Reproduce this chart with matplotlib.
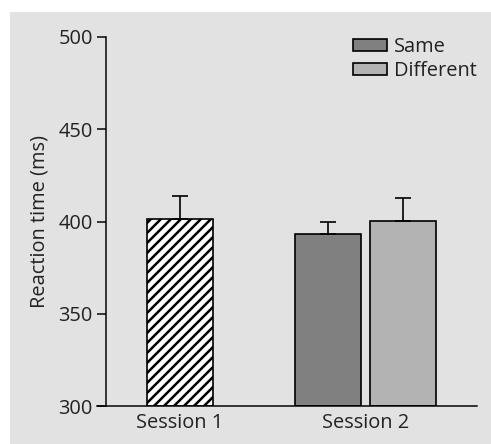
import numpy as np
from matplotlib import pyplot as plt
from matplotlib.patches import Rectangle

# data
session_labels = ["Session 1", "Session 2"]
condition_names = ["Same", "Different"]
session1_mean = 401.4
session1_err = 12.4
session2_means = [393.4, 400.4]
session2_errs = [6.1, 12.3]

plt.rcParams["font.family"] = ["Open Sans", "DejaVu Sans"]
plt.rcParams["hatch.linewidth"] = 1.5

fs = 12
fig = plt.figure(figsize=(4.1, 3.7), dpi=120)
fig.patches.append(Rectangle((10 / 492, 0), 1, 1 - 12 / 444, transform=fig.transFigure,
                             facecolor="#e2e2e2", edgecolor="none", zorder=-10))
ax = fig.add_axes([106 / 492, 1 - 406 / 444, 371 / 492, 369 / 444])
ax.patch.set_alpha(0)

s1_pos = 1.10
s2_center = 3.87
offset = 0.56
width = 0.98
ekw = dict(elinewidth=1.0, capthick=1.0, ecolor="black")

ax.bar(s1_pos, session1_mean - 300, bottom=300, width=width, facecolor="white",
       edgecolor="black", linewidth=1.0, hatch="////")
ax.errorbar(s1_pos, session1_mean, yerr=[[0], [session1_err]], fmt="none", capsize=5, **ekw)

colors = ["#808080", "#b3b3b3"]
for i, (name, m, e) in enumerate(zip(condition_names, session2_means, session2_errs)):
    x = s2_center + (i - 0.5) * 2 * offset
    ax.bar(x, m - 300, bottom=300, width=width, facecolor=colors[i], edgecolor="black",
           linewidth=1.0, label=name)
    ax.errorbar(x, m, yerr=[[0], [e]], fmt="none", capsize=5, **ekw)

ax.set_xlim(0, 371 / 67)
ax.set_ylim(300, 500)
ax.set_yticks(np.arange(300, 501, 50))
ax.set_xticks([s1_pos, s2_center], session_labels)
ax.tick_params(axis="y", direction="out", length=5.4, width=0.9, pad=2.5, labelsize=fs, labelcolor="#222222")
ax.tick_params(axis="x", length=0, pad=4, labelsize=fs, labelcolor="#222222")
for side in ["top", "right"]:
    ax.spines[side].set_visible(False)
for side in ["left", "bottom"]:
    ax.spines[side].set_linewidth(0.9)
ax.spines["bottom"].set_bounds(-0.14, 371 / 67)
ax.set_ylabel("Reaction time (ms)", fontsize=fs, labelpad=5, color="#222222")

ax.legend(loc="upper right", bbox_to_anchor=(1.0, 1.0), frameon=False, fontsize=fs,
          handlelength=1.7, handleheight=0.5, handletextpad=0.35, labelspacing=0.2,
          borderaxespad=0, borderpad=0, labelcolor="#222222")

fig.savefig("out.png", dpi=120)
